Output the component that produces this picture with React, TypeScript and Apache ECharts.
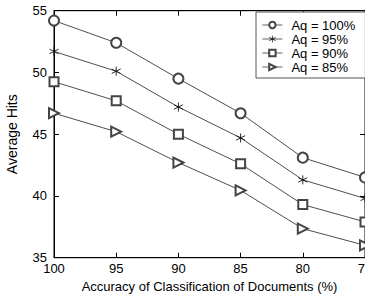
import React, { useEffect, useRef } from "react";
import * as echarts from "echarts";

const xValues = [100, 95, 90, 85, 80, 75];
const seriesNames = ["Aq = 100%", "Aq = 95%", "Aq = 90%", "Aq = 85%"];
const aq100 = [54.2, 52.4, 49.5, 46.7, 43.1, 41.5];
const aq95 = [51.7, 50.1, 47.2, 44.7, 41.3, 39.8];
const aq90 = [49.25, 47.7, 45.0, 42.6, 39.3, 37.9];
const aq85 = [46.7, 45.2, 42.7, 40.45, 37.35, 36.0];

const ASTERISK = "path://M5,0L5,10M0.7,2.5L9.3,7.5M0.7,7.5L9.3,2.5";

export default function App() {
  const ref = useRef<HTMLDivElement>(null);
  useEffect(() => {
    document.body.style.margin = "0";
    const chart = echarts.init(ref.current!, null, { renderer: "svg" });
    const font = "Liberation Sans, Arial, sans-serif";
    const lineCol = "#3a3a3a";
    const mk = (name: string, data: number[], symbol: string, size: number, rotate = 0) => ({
      name,
      type: "line",
      data: xValues.map((x, i) => [x, data[i]]),
      symbol,
      symbolSize: size,
      symbolRotate: rotate,
      showAllSymbol: true,
      lineStyle: { color: lineCol, width: 0.9 },
      itemStyle:
        symbol === ASTERISK
          ? { color: "#111", borderColor: "#111", borderWidth: 0.9 }
          : { color: "#444", borderWidth: 0.9 },
      clip: false,
    });
    chart.setOption({
      animation: false,
      textStyle: { fontFamily: font },
      grid: {
        left: 54,
        right: 0,
        top: 10.7,
        bottom: 37.3,
        containLabel: false,
        outerBoundsMode: "none",
        show: true,
        borderColor: "#000",
        borderWidth: 1,
      },
      legend: {
        data: seriesNames,
        orient: "vertical",
        left: 256,
        top: 12,
        padding: [6, 10, 4, 6],
        backgroundColor: "#fff",
        borderColor: "#555",
        borderWidth: 1,
        itemWidth: 20,
        itemHeight: 8,
        itemGap: 0,
        itemStyle: { borderWidth: 0.8 },
        lineStyle: { width: 0.8 },
        textStyle: { fontSize: 13, lineHeight: 14, color: "#000", fontFamily: font, padding: [0, 0, 0, 4] },
      },
      xAxis: [
        {
          type: "value",
          inverse: true,
          min: 75,
          max: 100,
          interval: 5,
          name: "Accuracy of Classification of Documents (%)",
          nameLocation: "middle",
          nameGap: 22,
          nameTextStyle: { fontSize: 13, color: "#000" },
          axisLine: { lineStyle: { color: "#000" } },
          axisTick: { inside: true, length: 5, lineStyle: { color: "#000" } },
          axisLabel: { fontSize: 13, color: "#000", margin: 4 },
          splitLine: { show: false },
        },
        {
          type: "value",
          inverse: true,
          position: "top",
          min: 75,
          max: 100,
          interval: 5,
          axisLine: { show: true, lineStyle: { color: "#000" } },
          axisTick: { inside: true, length: 5, lineStyle: { color: "#000" } },
          axisLabel: { show: false },
          splitLine: { show: false },
        },
      ],
      yAxis: [
        {
          type: "value",
          min: 35,
          max: 55,
          interval: 5,
          name: "Average Hits",
          nameLocation: "middle",
          nameGap: 35,
          nameTextStyle: { fontSize: 14, color: "#000" },
          axisLine: { show: true, lineStyle: { color: "#000" } },
          axisTick: { inside: true, length: 5, lineStyle: { color: "#000" } },
          axisLabel: { fontSize: 13, color: "#000", margin: 7 },
          splitLine: { show: false },
        },
        {
          type: "value",
          position: "right",
          min: 35,
          max: 55,
          interval: 5,
          axisLine: { show: true, lineStyle: { color: "#000" } },
          axisTick: { inside: true, length: 5, lineStyle: { color: "#000" } },
          axisLabel: { show: false },
          splitLine: { show: false },
        },
      ],
      series: [
        mk(seriesNames[0], aq100, "emptyCircle", 10),
        mk(seriesNames[1], aq95, ASTERISK, 9),
        mk(seriesNames[2], aq90, "emptyRect", 9),
        mk(seriesNames[3], aq85, "emptyTriangle", 10, -90),
      ],
    });
    return () => chart.dispose();
  }, []);
  return <div ref={ref} style={{ width: 365, height: 295 }} />;
}
